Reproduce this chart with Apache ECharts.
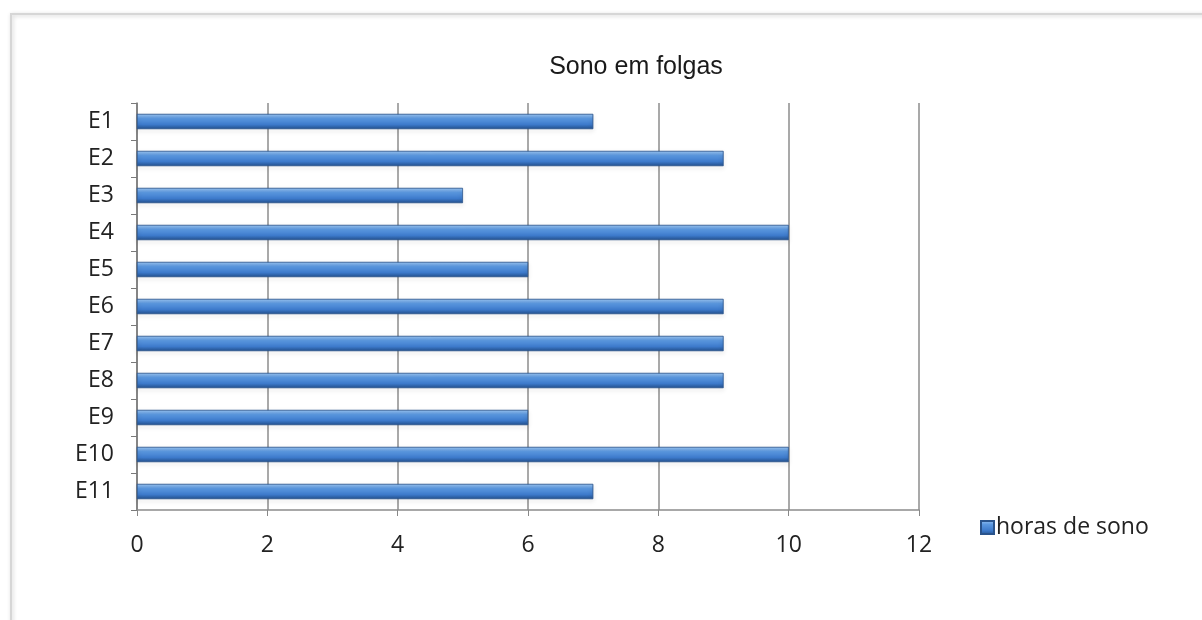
<!DOCTYPE html>
<html>
<head>
<meta charset="utf-8">
<script src="https://cdn.jsdelivr.net/npm/echarts@6/dist/echarts.min.js"></script>
<style>
  html, body { margin: 0; padding: 0; background: #fff; }
  #chart { width: 1202px; height: 620px; }
</style>
</head>
<body>
<div id="chart"></div>
<script>
var categories = ["E1", "E2", "E3", "E4", "E5", "E6", "E7", "E8", "E9", "E10", "E11"];
var horasDeSono = [7, 9, 5, 10, 6, 9, 9, 9, 6, 10, 7];
var xTicks = [0, 2, 4, 6, 8, 10, 12];

var myChart = echarts.init(document.getElementById("chart"));

var barColor = new echarts.graphic.LinearGradient(0, 0, 0, 1, [
  { offset: 0, color: "#9cc7f5" },
  { offset: 0.3, color: "#5b98e0" },
  { offset: 0.7, color: "#3d7acb" },
  { offset: 1, color: "#24528f" }
]);

var option = {
  backgroundColor: "#fff",
  textStyle: { fontFamily: "Open Sans, Liberation Sans, sans-serif" },
  title: {
    text: "Sono em folgas",
    left: 631,
    top: 50,
    textAlign: "center",
    textStyle: { fontSize: 25, fontWeight: "normal", color: "#1a1a1a", fontFamily: "Liberation Sans, Arial, sans-serif" }
  },
  legend: {
    data: ["horas de sono"],
    left: 975,
    top: 511,
    itemWidth: 13,
    itemHeight: 13,
    icon: "rect",
    itemGap: 4,
    textStyle: { fontSize: 23, color: "#222", padding: [0, 0, 0, -3] }
  },
  graphic: [
    {
      type: "rect",
      shape: { x: 11, y: 14, width: 1200, height: 620 },
      style: { fill: "none", stroke: "#d6d6d6", lineWidth: 2, shadowBlur: 4, shadowColor: "rgba(0,0,0,0.2)", shadowOffsetX: 1, shadowOffsetY: 1 },
      silent: true
    }
  ],
  grid: {
    left: 137,
    right: 283,
    top: 103,
    bottom: 110,
    containLabel: false
  },
  xAxis: {
    type: "value",
    min: 0,
    max: 12,
    interval: 2,
    axisLine: { show: true, lineStyle: { color: "#8c8c8c", width: 1.5 } },
    axisTick: { show: true, length: 6, lineStyle: { color: "#888" } },
    splitLine: { show: true, lineStyle: { color: "#8c8c8c", width: 1.5 } },
    axisLabel: {
      fontSize: 23,
      color: "#222",
      margin: 24,
      formatter: function (v) { return xTicks.indexOf(v) >= 0 ? String(v) : ""; }
    }
  },
  yAxis: {
    type: "category",
    data: categories,
    inverse: true,
    axisLine: { show: true, lineStyle: { color: "#7a7a7a", width: 1.5 } },
    axisTick: { show: true, length: 6, alignWithLabel: false, lineStyle: { color: "#7a7a7a" } },
    axisLabel: { fontSize: 23, color: "#222", margin: 23 },
    splitLine: { show: false }
  },
  series: [
    {
      name: "horas de sono",
      type: "bar",
      data: horasDeSono,
      barWidth: 15,
      itemStyle: {
        color: barColor,
        borderColor: "#2a548c",
        borderWidth: 0.5,
        shadowBlur: 4,
        shadowColor: "rgba(0,0,0,0.3)",
        shadowOffsetY: 2
      }
    }
  ]
};

myChart.setOption(option);
</script>
</body>
</html>
